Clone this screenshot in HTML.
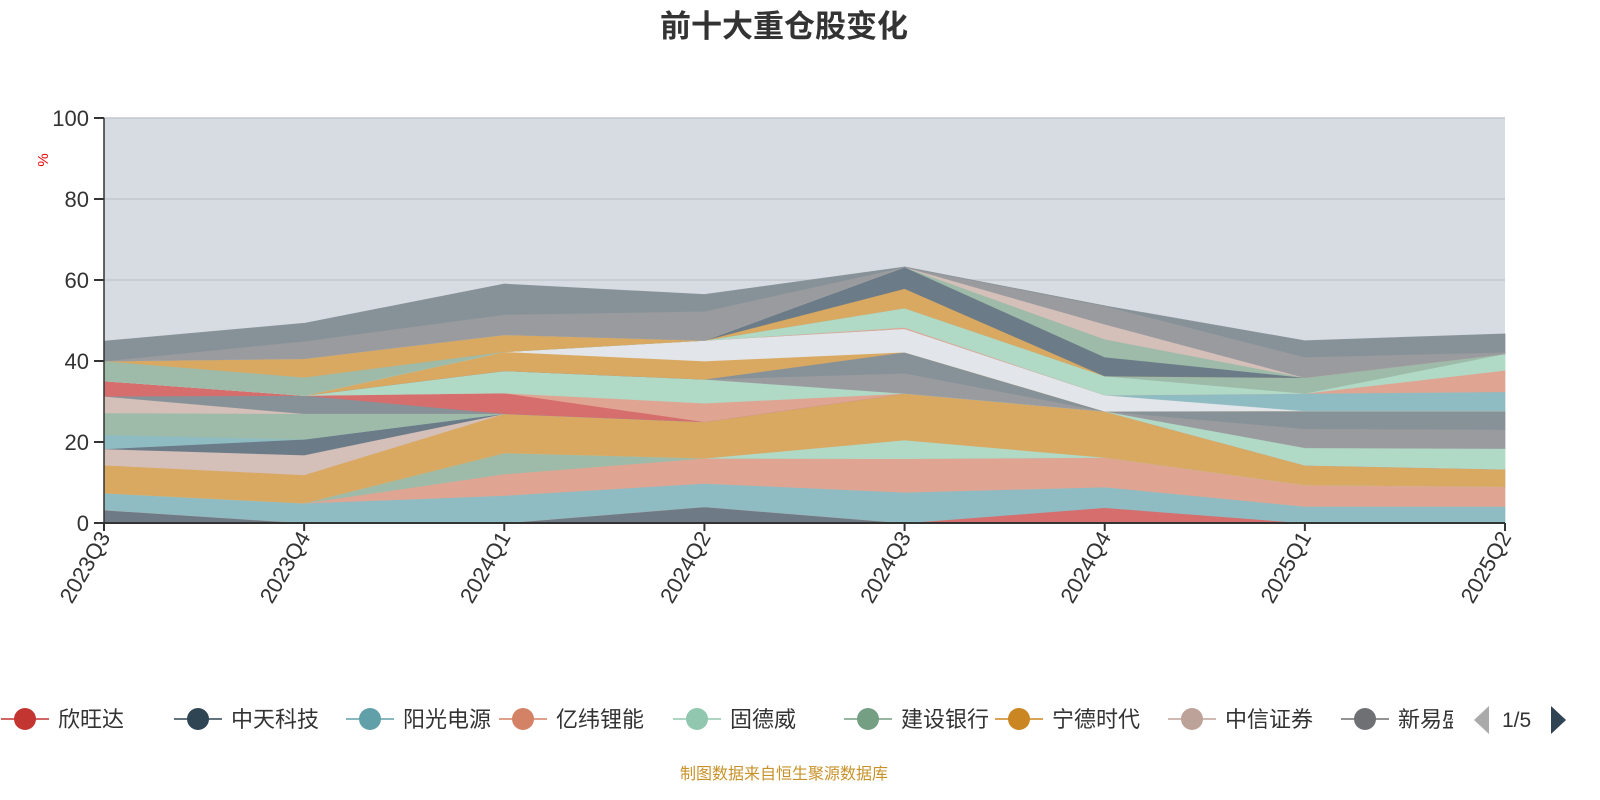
<!DOCTYPE html>
<html><head><meta charset="utf-8"><style>
body{margin:0;background:#fff;font-family:"Liberation Sans","Noto Sans CJK SC",sans-serif}
svg{display:block}
</style></head><body>
<svg id="c" width="1600" height="800" xmlns="http://www.w3.org/2000/svg" font-family="Liberation Sans, Noto Sans CJK SC, sans-serif">
<text x="784" y="37" text-anchor="middle" font-size="31" font-weight="bold" fill="#333">前十大重仓股变化</text>
<rect x="104" y="118" width="1401" height="405" fill="#d7dce3"/>
<g id="grid"></g>
<g id="areas"></g>
<g id="axes"></g>
<text transform="translate(48,160) rotate(-90)" text-anchor="middle" font-size="15" fill="#e00">%</text>
<g id="legend"></g>
<text x="784" y="779" text-anchor="middle" font-size="16" fill="#c8922a">制图数据来自恒生聚源数据库</text>
</svg>
<script>
const categories=["2023Q3","2023Q4","2024Q1","2024Q2","2024Q3","2024Q4","2025Q1","2025Q2"];
const yTicks=[0,20,40,60,80,100];
const s1=[3.2,0,0,4,0,0,0,0];
const s2=[0,0,0,0,0,3.8,0,0];
const s3=[4.2,4.9,6.8,5.8,7.6,5.1,4.1,4.1];
const s4=[0,0,5.3,6.2,8.3,7.3,5.3,4.9];
const s5=[0,0,5.2,0,0,0,0,0];
const s6=[0,0,0,0,4.6,0,0,0];
const s7=[6.9,7,9.7,9,11.5,11.4,4.9,4.3];
const s8=[4,4.9,0,0,0,0,0,0];
const s9=[0,3.9,0,0,0,0,0,0];
const s10=[3.5,0,0,0,0,0,0,0];
const s11=[5.4,6.3,0,0,0,0,0,0];
const s12=[4.1,0,0,0,0,0,0,0];
const s13=[0,4.5,0,0,0,0,0,0];
const s14=[3.8,0,5.1,0,0,0,0,0];
const s15=[0,0,0,4.6,0,0,0,0];
const s16=[0,0,5.5,5.9,0,0,0,0];
const s17=[0,0,0,0,0,0,4.3,5.1];
const s18=[0,0,0,0,5,0,4.7,4.7];
const s19=[0,0,0,0,5.2,0,4.4,4.6];
const s20=[0,0,4.7,4.5,0,0,0,0];
const s21=[0,0,0,5.1,5.8,4,0,0];
const s22=[0,0,0,0,0,0,4.3,4.7];
const s23=[0,0,0,0,0.3,0,0,5.3];
const s24=[0,0,0,0,4.8,4.7,0,4.1];
const s25=[4.9,4.5,0,0,0,0,3.9,0];
const s26=[0,4.6,4.2,0,4.8,0,0,0];
const s27=[0,0,0,0,5.3,4.7,0,0];
const s28=[0,0,0,0,0,4.4,0,0];
const s29=[0,0,0,0,0,3.7,0,0];
const s30=[0,4.3,5,7.2,0,4.5,5.1,0.4];
const s31=[4.9,4.4,7.5,4.1,0,0,4,4.5];
const seriesList=[s1,s2,s3,s4,s5,s6,s7,s8,s9,s10,s11,s12,s13,s14,s15,s16,s17,s18,s19,s20,s21,s22,s23,s24,s25,s26,s27,s28,s29,s30,s31];
const colors=["#6e7a85","#d66e6e","#8fbcc2","#e0a592","#9dbba8","#b0d9c6","#d9a962","#d4bfb9","#6b7b88","#8fbcc2","#9dbba8","#d4bfb9","#879298","#d66e6e","#e0a592","#b0d9c6","#b0d9c6","#9a9b9f","#879298","#d9a962","#e2e5ea","#8fbcc2","#e0a592","#b0d9c6","#9dbba8","#d9a962","#6b7b88","#9dbba8","#d4bfb9","#9a9b9f","#879298"];
const legendNames=["欣旺达","中天科技","阳光电源","亿纬锂能","固德威","建设银行","宁德时代","中信证券","新易盛"];
const legendColors=["#c23531","#2f4554","#61a0a8","#d48265","#91c7ae","#749f83","#ca8622","#bda29a","#6e7074"];
const NS="http://www.w3.org/2000/svg";
const X0=104,X1=1505,Y0=523,Y1=118;
const xS=i=>X0+(X1-X0)*i/(categories.length-1);
const yS=v=>Y0-(Y0-Y1)*v/100;
function mk(t,a,p){const e=document.createElementNS(NS,t);for(const k in a)e.setAttribute(k,a[k]);p.appendChild(e);return e;}
const grid=document.getElementById('grid'),axes=document.getElementById('axes'),areas=document.getElementById('areas'),leg=document.getElementById('legend');
yTicks.forEach(v=>{
 if(v>0){const g=mk('line',{x1:X0,x2:X1,y1:yS(v),y2:yS(v),stroke:'#c4c8d0','stroke-width':1.5},grid);
 
 }
 const t=mk('line',{x1:X0-10,x2:X0,y1:yS(v),y2:yS(v),stroke:'#333','stroke-width':2},axes);
 
 
 const l=mk('text',{x:X0-15,y:yS(v)+8,'text-anchor':'end','font-size':22,fill:'#333'},axes);l.textContent=v;
 
 
});
let base=categories.map(()=>0);
seriesList.forEach((s,si)=>{
 const top=base.map((b,i)=>b+s[i]);
 let d='M'+top.map((v,i)=>xS(i)+','+yS(v)).join('L');
 for(let i=base.length-1;i>=0;i--)d+='L'+xS(i)+','+yS(base[i]);
 const p=mk('path',{d:d+'Z',fill:colors[si],stroke:colors[si],'stroke-width':0.8,'stroke-opacity':0.9},areas);
 
 
 base=top;
});
const ya=mk('line',{x1:X0,x2:X0,y1:Y1,y2:Y0,stroke:'#333','stroke-width':1.5},axes);


const xa=mk('line',{x1:X0,x2:X1,y1:Y0,y2:Y0,stroke:'#333','stroke-width':2},axes);


categories.forEach((c,i)=>{
 const t=mk('line',{x1:xS(i),x2:xS(i),y1:Y0,y2:Y0+8,stroke:'#333','stroke-width':2},axes);
 
 
 const l=mk('text',{transform:`translate(${xS(i)+7},${Y0+14}) rotate(-60)`,'text-anchor':'end','font-size':22,fill:'#333'},axes);l.textContent=c;
 
 
});
const lx=[25,198,370,523,697,868,1019,1192,1365];
legendNames.forEach((n,i)=>{
 const g=mk('g',{},leg);
 
 
 mk('line',{x1:lx[i]-24,x2:lx[i]+24,y1:719,y2:719,stroke:legendColors[i],'stroke-width':1.5},g);
 mk('circle',{cx:lx[i],cy:719,r:11,fill:legendColors[i]},g);
 const t=mk('text',{x:lx[i]+33,y:727,'font-size':22,fill:'#333'},g);t.textContent=n;
});
const cover=mk('rect',{x:1453,y:700,width:147,height:40,fill:'#fff'},leg);


const pl=mk('path',{d:'M1489,706 L1474,720 L1489,734 Z',fill:'#aaa'},leg);


const pt=mk('text',{x:1502,y:727,'font-size':21,fill:'#333'},leg);pt.textContent='1/5';


const pn=mk('path',{d:'M1551,706 L1566,720 L1551,734 Z',fill:'#2f4554'},leg);


</script>
</body></html>
